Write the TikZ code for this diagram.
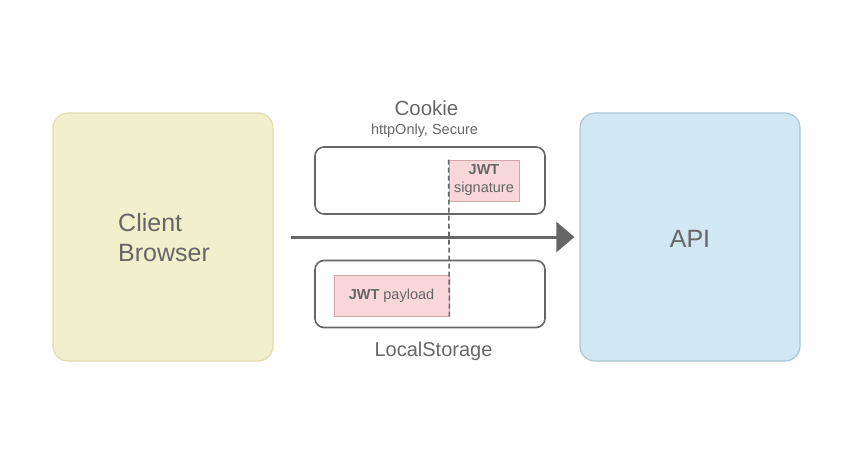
\documentclass[tikz,border=0pt]{standalone}
\usepackage{fontspec}
\setmainfont{Liberation Sans}
\usetikzlibrary{arrows.meta}
\definecolor{txt}{HTML}{666666}
\definecolor{clientfill}{HTML}{F2EFCC}
\definecolor{clientdraw}{HTML}{E0DCAF}
\definecolor{apifill}{HTML}{D1E7F2}
\definecolor{apidraw}{HTML}{A9C6D1}
\definecolor{jwtfill}{HTML}{F7D7DA}
\definecolor{jwtdraw}{HTML}{D3A6AA}
\definecolor{boxdraw}{HTML}{666666}
\tikzset{
  bigbox/.style={rounded corners=15pt, line width=1.2pt, minimum width=220pt, minimum height=248pt, inner sep=0pt},
  store/.style={draw=boxdraw, rounded corners=9pt, line width=1.6pt, minimum width=230pt, minimum height=67pt, inner sep=0pt, fill=white},
  jwt/.style={draw=jwtdraw, fill=jwtfill, line width=0.8pt, inner sep=0pt, minimum height=41pt, text=txt, font=\fontsize{14.5}{18}\selectfont, align=center},
  lbl/.style={text=txt, inner sep=0pt},
}
\begin{document}
\begin{tikzpicture}[x=1pt,y=-1pt]
\useasboundingbox (0,0) rectangle (850,474);
\node[bigbox, fill=clientfill, draw=clientdraw] (client) at (163,237) {};
\node[bigbox, fill=apifill, draw=apidraw] (api) at (690,237) {};
\node[store] (cookie) at (430,180.5) {};
\node[store] (ls) at (430,294) {};
\node[jwt, minimum width=70pt] (sig) at (484,180.5) {\textbf{JWT}\\signature};
\node[jwt, minimum width=115pt] (pay) at (391.5,295.5) {\textbf{JWT} payload};
\draw[boxdraw, line width=1.6pt, dash pattern=on 5pt off 3pt] (sig.north west) -- (pay.south east);
\node[lbl, font=\fontsize{20.5}{24}\selectfont, anchor=base] (cookielbl) at (426.5,115) {Cookie};
\node[lbl, font=\fontsize{14.5}{17}\selectfont, anchor=base] (cookiesub) at (424.5,134) {httpOnly, Secure};
\node[lbl, font=\fontsize{20}{24}\selectfont, anchor=base] (lslbl) at (433.5,356) {LocalStorage};
\node[lbl, font=\fontsize{25}{30}\selectfont, align=left, anchor=north west] (clientlbl) at (118,213) {Client\\Browser};
\node[lbl, font=\fontsize{25}{30}\selectfont] (apilbl) at (690,239) {API};
\coordinate (astart) at (291,237);
\draw[boxdraw, line width=3pt, shorten >=5pt, -{Triangle[length=18pt,width=30pt]}] (astart) -- (api.west);
\end{tikzpicture}
\end{document}
